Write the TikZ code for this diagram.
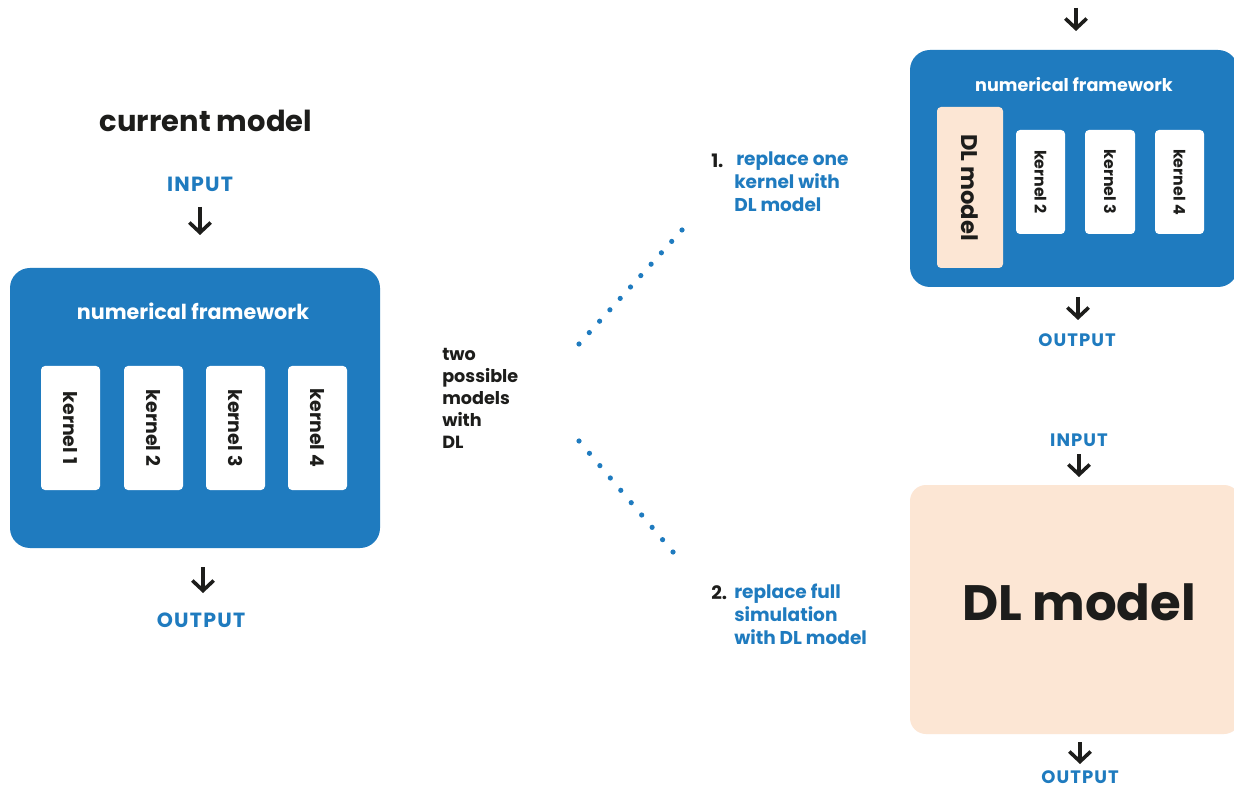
\documentclass[tikz,border=0pt]{standalone}
\usepackage{fontspec}
\setmainfont{Poppins}
\usetikzlibrary{arrows.meta,fit,calc}
\definecolor{dlblue}{RGB}{31,123,191}
\definecolor{peach}{RGB}{252,230,212}
\definecolor{ink}{RGB}{29,29,27}
\tikzset{
  frame/.style={fill=dlblue, draw=none, rounded corners=15pt, inner sep=0pt},
  kern/.style={fill=white, draw=none, rounded corners=3pt, inner sep=0pt},
  dlbox/.style={fill=peach, draw=none, rounded corners=3pt, inner sep=0pt},
  bigdl/.style={fill=peach, draw=none, rounded corners=12pt, inner sep=0pt},
  arr/.style={draw=ink, line width=2.7pt, -{Straight Barb[length=7.5pt,width=16pt,line width=2.7pt]}},
  io/.style={text=dlblue, font=\bfseries\fontsize{13.5}{15}\selectfont\addfontfeatures{LetterSpace=6}, inner sep=0pt},
  iobig/.style={text=dlblue, font=\bfseries\fontsize{15.4}{17}\selectfont\addfontfeatures{LetterSpace=6}, inner sep=0pt},
  ktext/.style={text=ink, rotate=-90, inner sep=0pt},
}
\begin{document}
\begin{tikzpicture}[x=0.75pt,y=-0.75pt]
\useasboundingbox[fill=white] (0,0) rectangle (1234,787);

% ---------------- current model ----------------
\node[text=ink, font=\bfseries\fontsize{21.7}{24}\selectfont, inner sep=0pt] (title) at (206,121) {current model};
\node[iobig] (in1) at (200,184) {INPUT};
\coordinate (a1s) at (200,207);
\coordinate (a1e) at (200,235);
\draw[arr] (a1s) -- (a1e);

\node[frame, fit={(10,268)(380,548)}] (fw1) {};
\node[text=white, font=\bfseries\fontsize{15.5}{18}\selectfont, inner sep=0pt] (fw1t) at (193,311) {numerical framework};
\node[kern, fit={(41,366)(100,490)}] (k1) {};
\node[kern, fit={(124,366)(183,490)}] (k2) {};
\node[kern, fit={(206,366)(265,490)}] (k3) {};
\node[kern, fit={(288,366)(347,490)}] (k4) {};
\foreach \k/\t in {k1/kernel 1,k2/kernel 2,k3/kernel 3,k4/kernel 4}{
  \node[ktext, font=\bfseries\fontsize{14.2}{16}\selectfont] at (\k.center) {\t};
}
\coordinate (a2s) at (203,567);
\coordinate (a2e) at (203,593);
\draw[arr] (a2s) -- (a2e);
\node[iobig] (out1) at (201,620) {OUTPUT};

% ---------------- middle ----------------
\node[text=ink, font=\bfseries\fontsize{13.2}{16.5}\selectfont, align=left, anchor=north west, inner sep=0pt] (mid) at (442,348) {two\\possible\\models\\with\\DL};

\coordinate (u0) at (579,344);
\coordinate (u1) at (682,230);
\coordinate (l0) at (579,441);
\coordinate (l1) at (673,552);
\foreach \i in {0,...,10}{
  \fill[dlblue] ($(u0)!\i/10!(u1)$) circle (2.6);
}
\foreach \i in {0,...,9}{
  \fill[dlblue] ($(l0)!\i/9!(l1)$) circle (2.6);
}

% ---------------- option 1 ----------------
\node[text=ink, font=\bfseries\fontsize{13.9}{17.25}\selectfont, anchor=west, inner sep=0pt] (n1) at (711,161) {1.};
\node[text=dlblue, font=\bfseries\fontsize{13.9}{17.25}\selectfont, align=left, anchor=north west, inner sep=0pt] (t1) at (734,152) {\hspace*{1.5pt}replace one\\kernel with\\DL model};

\coordinate (a3s) at (1076,8);
\coordinate (a3e) at (1076,31);
\draw[arr] (a3s) -- (a3e);
\node[frame, fit={(910,50)(1238,287)}] (fw2) {};
\node[text=white, font=\bfseries\fontsize{13.2}{15}\selectfont, inner sep=0pt] (fw2t) at (1074,85) {numerical framework};
\node[dlbox, fit={(937,107)(1003,268)}] (dl1) {};
\node[ktext, font=\bfseries\fontsize{17}{19}\selectfont] at (dl1.center) {DL model};
\node[kern, fit={(1016,130)(1065,234)}] (q2) {};
\node[kern, fit={(1085,130)(1135,234)}] (q3) {};
\node[kern, fit={(1155,130)(1204,234)}] (q4) {};
\foreach \k/\t in {q2/kernel 2,q3/kernel 3,q4/kernel 4}{
  \node[ktext, font=\bfseries\fontsize{11.9}{13}\selectfont] at (\k.center) {\t};
}
\coordinate (a4s) at (1078,297);
\coordinate (a4e) at (1078,320);
\draw[arr] (a4s) -- (a4e);
\node[io] (out2) at (1077,340) {OUTPUT};

% ---------------- option 2 ----------------
\node[text=ink, font=\bfseries\fontsize{13.9}{17.25}\selectfont, anchor=west, inner sep=0pt] (n2) at (711,593) {2.};
\node[text=dlblue, font=\bfseries\fontsize{13.9}{17.25}\selectfont, align=left, anchor=north west, inner sep=0pt] (t2) at (734,584) {replace full\\simulation\\with DL model};

\node[io] (in3) at (1079,440) {INPUT};
\coordinate (a5s) at (1079,454);
\coordinate (a5e) at (1079,477);
\draw[arr] (a5s) -- (a5e);
\node[bigdl, fit={(910,485)(1240,734)}] (dl2) {};
\node[text=ink, font=\bfseries\fontsize{37.3}{40}\selectfont, inner sep=0pt] (dl2t) at (1079,602) {DL model};
\coordinate (a6s) at (1080,742);
\coordinate (a6e) at (1080,764);
\draw[arr] (a6s) -- (a6e);
\node[io] (out3) at (1080,777) {OUTPUT};
\end{tikzpicture}
\end{document}
